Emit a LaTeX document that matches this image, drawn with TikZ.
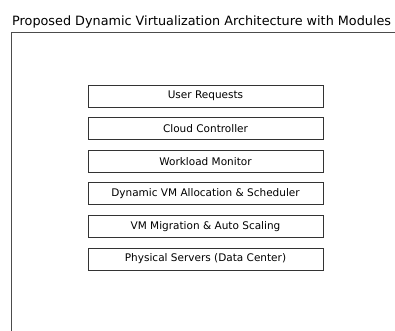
\documentclass[tikz,border=0pt]{standalone}
\usepackage{fontspec}
\setmainfont{DejaVu Sans}

\tikzstyle{module}=[draw=black!80,line width=0.9pt,minimum width=235pt,minimum height=22pt,inner sep=0pt,font=\fontsize{10.5}{12}\selectfont]
\tikzstyle{frame} = [draw=black!70,line width=0.9pt]

\begin{document}
\begin{tikzpicture}[x=1pt,y=-1pt]
			\useasboundingbox (0,0) rectangle (395,330);
			\clip (0,0) rectangle (395,330);
			% Title and outer frame
			\node[anchor=base west,inner sep=0pt,font=\fontsize{12.8}{15}\selectfont] (title) at (12,25) {Proposed Dynamic Virtualization Architecture with Modules};
			\path[frame] (11,32) rectangle (420,360);
			% The modules, top to bottom
			\node[module] (user) at (205.5,96) {User Requests};
			\node[module] (ctrl) at (205.5,128.6) {Cloud Controller};
			\node[module] (mon) at (205.5,161.2) {Workload Monitor};
			\node[module] (sched) at (205.5,193.8) {Dynamic VM Allocation \& Scheduler};
			\node[module] (migr) at (205.5,226.4) {VM Migration \& Auto Scaling};
			\node[module] (phys) at (205.5,259) {Physical Servers (Data Center)};
\end{tikzpicture}
\end{document}
